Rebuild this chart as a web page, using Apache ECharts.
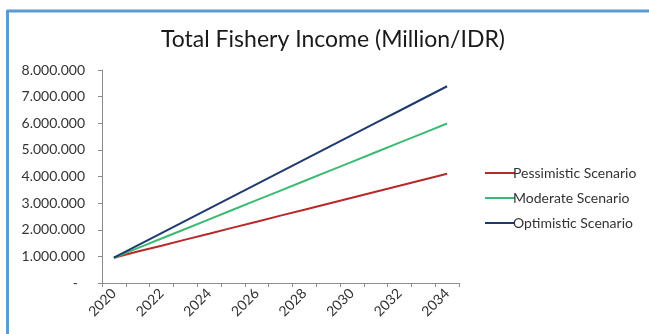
<!DOCTYPE html>
<html>
<head>
<meta charset="utf-8">
<script src="https://cdn.jsdelivr.net/npm/echarts@6/dist/echarts.min.js"></script>
<style>
html,body{margin:0;padding:0;background:#fff;}
#c{width:649px;height:334px;}
</style>
</head>
<body>
<div id="c"></div>
<script>
const years = ['2020','2021','2022','2023','2024','2025','2026','2027','2028','2029','2030','2031','2032','2033','2034'];
const pessimistic = [950000,1180000,1400000,1630000,1850000,2080000,2300000,2530000,2750000,2980000,3200000,3430000,3650000,3880000,4100000];
const moderate = [950000,1310000,1670000,2030000,2390000,2750000,3110000,3470000,3830000,4190000,4550000,4910000,5270000,5630000,5990000];
const optimistic = [950000,1410000,1870000,2330000,2790000,3250000,3710000,4170000,4630000,5090000,5550000,6010000,6470000,6930000,7390000];
const seriesNames = ['Pessimistic Scenario','Moderate Scenario','Optimistic Scenario'];
const colors = ['#b8282a','#3cba72','#1f3a6e'];
const titleText = 'Total Fishery Income (Million/IDR)';

const font = 'Lato, "Open Sans", sans-serif';
function fmt(v){
  if (v === 0) return '-  ';
  return String(v).replace(/\B(?=(\d{3})+(?!\d))/g,'.');
}
const chart = echarts.init(document.getElementById('c'));
const data = [pessimistic, moderate, optimistic];
chart.setOption({
  animation:false,
  backgroundColor:'#fff',
  title:{text:titleText,left:328,textAlign:'center',top:23,
    textStyle:{fontFamily:font,fontSize:23,fontWeight:'normal',color:'#1a1a1a'}},
  graphic:[
    {type:'line',shape:{x1:7,y1:11,x2:649,y2:11},style:{stroke:'#5b9bd5',lineWidth:3}},
    {type:'line',shape:{x1:7.5,y1:10,x2:7.5,y2:334},style:{stroke:'#5b9bd5',lineWidth:3}}
  ],
  legend:{orient:'vertical',left:480,top:161,itemGap:11,icon:'rect',itemWidth:30,itemHeight:2,
    data:seriesNames,
    textStyle:{fontFamily:font,fontSize:14,color:'#333',padding:[0,0,0,-7]}},
  grid:{left:102,right:190,top:70,bottom:51,containLabel:false},
  xAxis:{type:'category',data:years,boundaryGap:true,
    axisLine:{lineStyle:{color:'#8c8c8c',width:1}},
    axisTick:{show:true,interval:0,length:4,lineStyle:{color:'#8c8c8c'}},
    axisLabel:{interval:1,rotate:45,fontFamily:font,fontSize:14,color:'#333',margin:8}},
  yAxis:{type:'value',min:0,max:8000000,interval:1000000,
    splitLine:{show:false},
    axisLine:{show:true,lineStyle:{color:'#8c8c8c',width:1}},
    axisTick:{show:true,length:4,lineStyle:{color:'#8c8c8c'}},
    axisLabel:{formatter:fmt,fontFamily:font,fontSize:14,color:'#333',margin:17}},
  series:seriesNames.map((n,i)=>({name:n,type:'line',data:data[i],symbol:'none',
    lineStyle:{color:colors[i],width:2},itemStyle:{color:colors[i]}}))
});
</script>
</body>
</html>
